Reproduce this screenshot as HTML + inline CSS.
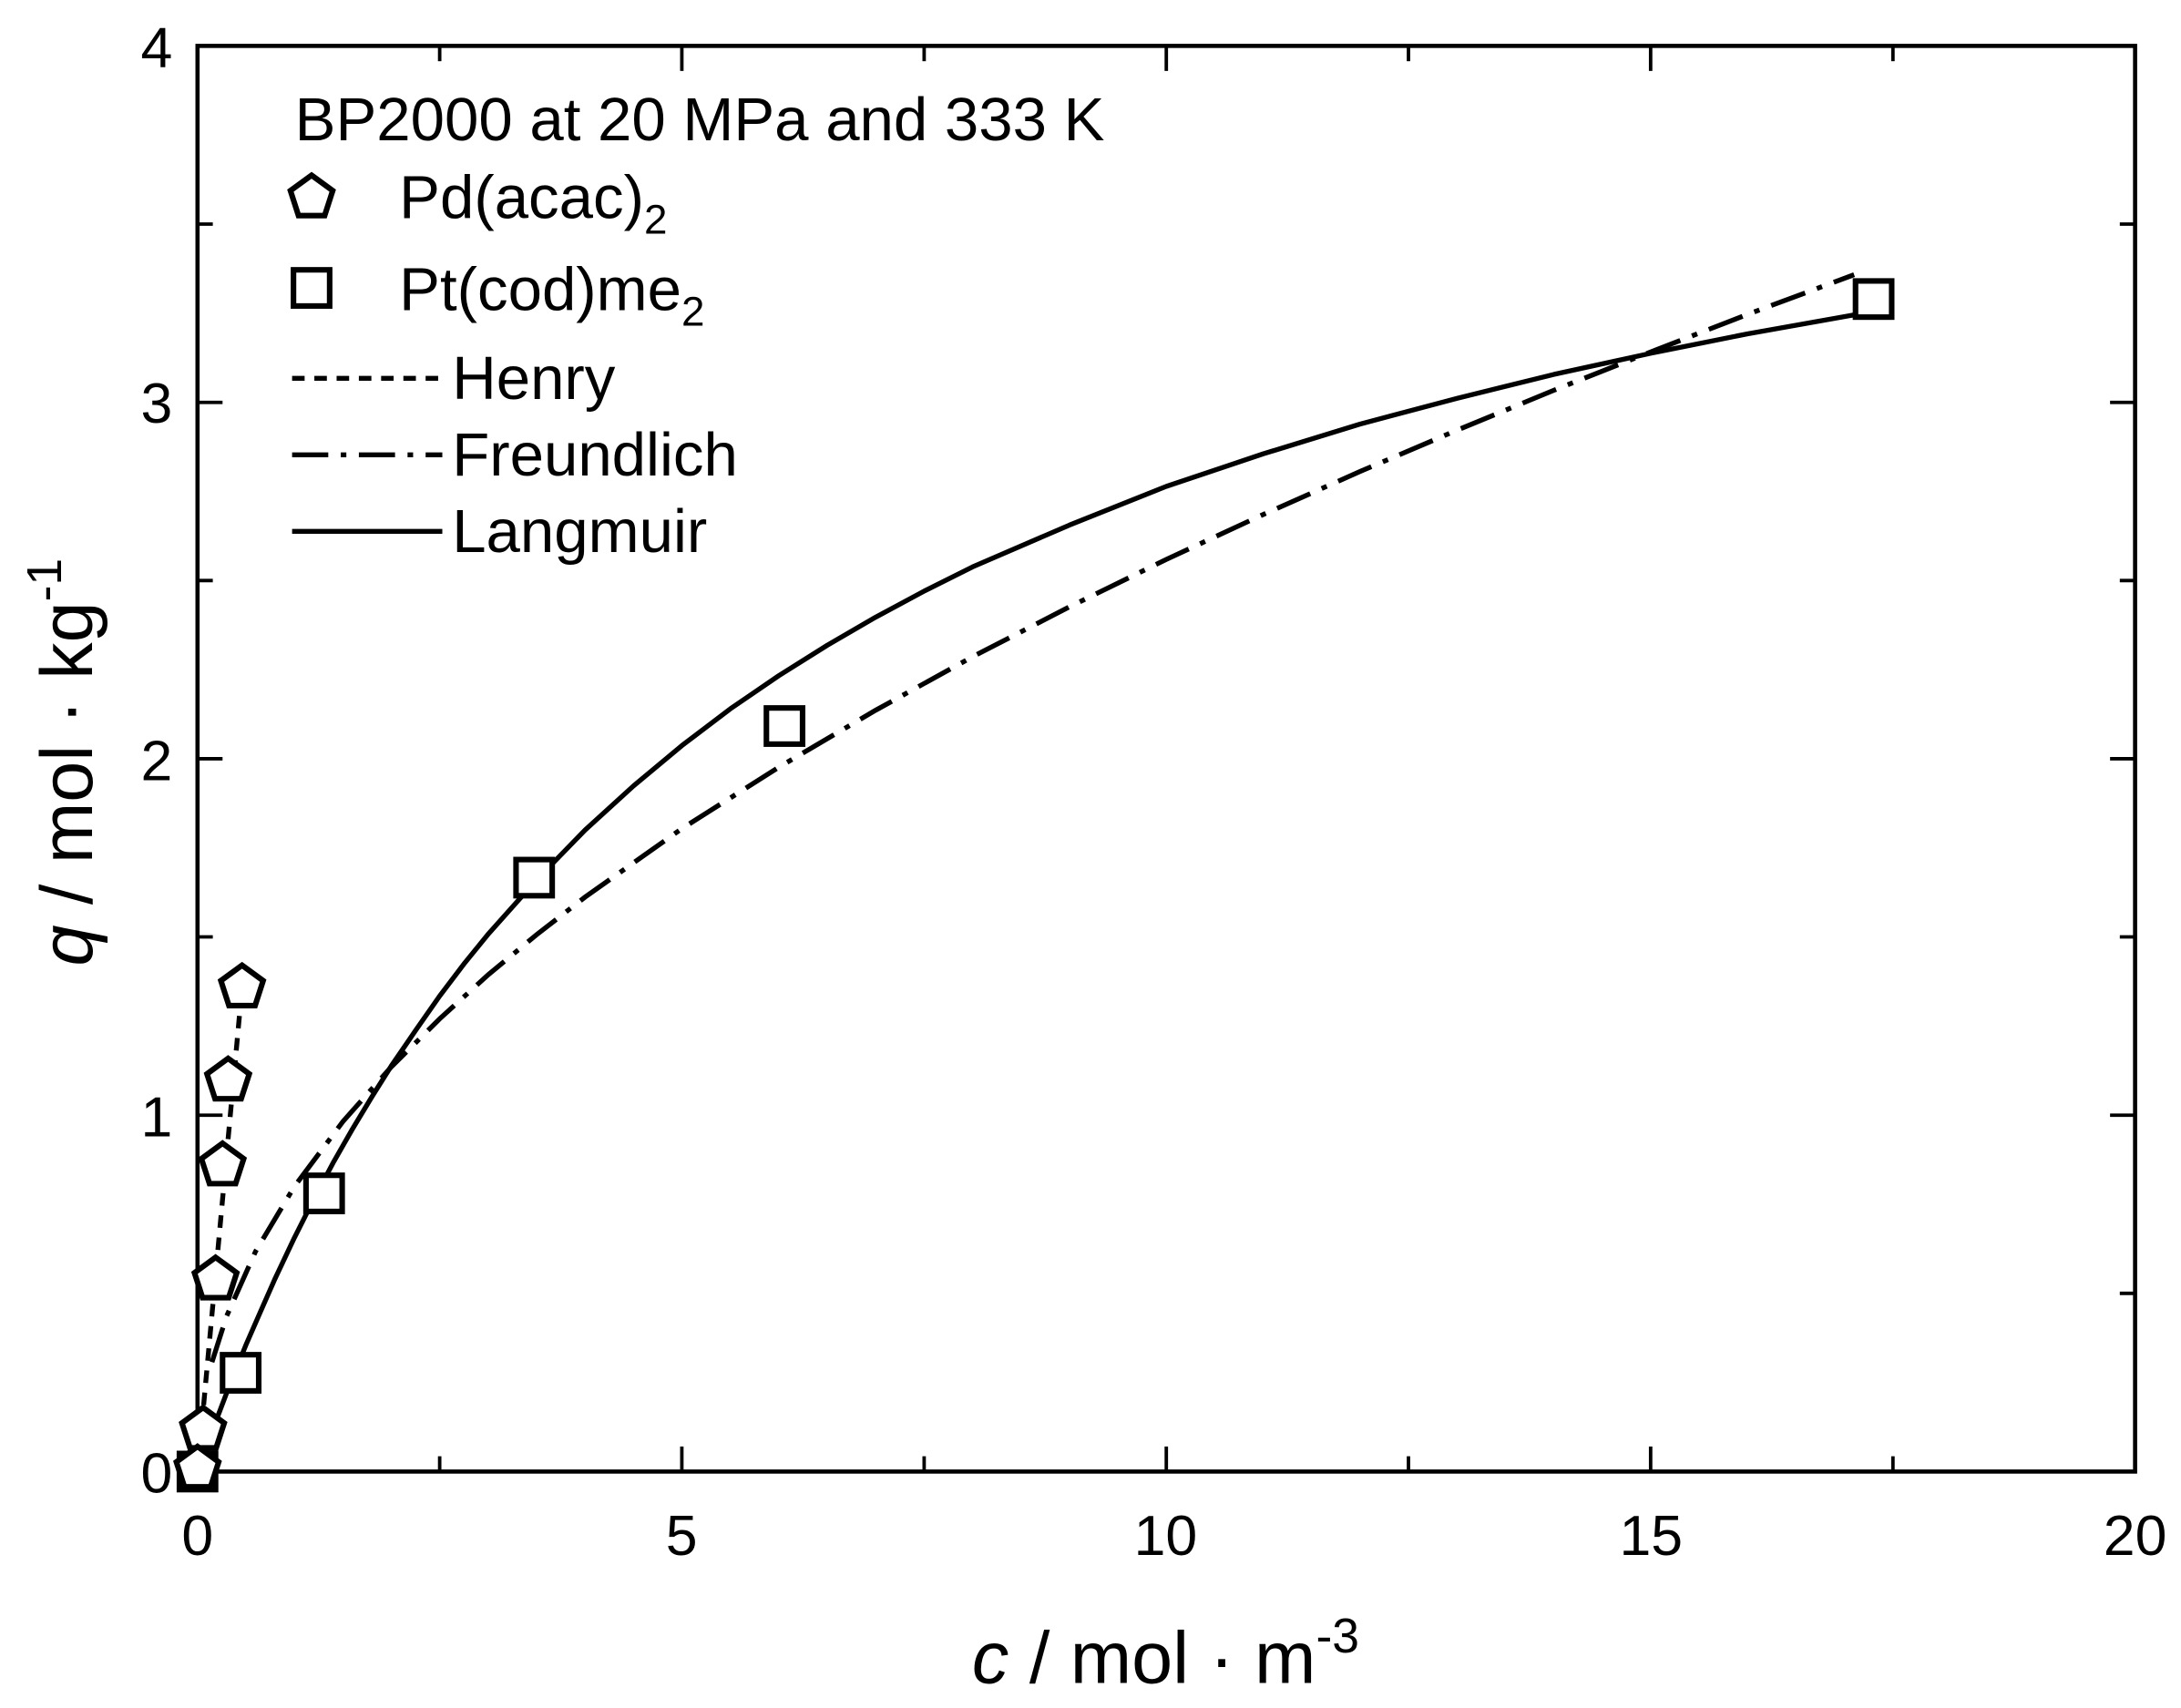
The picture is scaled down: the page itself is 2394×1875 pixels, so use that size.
<!DOCTYPE html>
<html><head><style>
html,body{margin:0;padding:0;background:#fff}
svg{display:block}
text{font-family:"Liberation Sans",Arial,sans-serif;fill:#000}
</style></head><body>
<svg width="2394" height="1875" viewBox="0 0 1568 1228" preserveAspectRatio="none" xmlns="http://www.w3.org/2000/svg">
<defs>
<polygon id="pent" points="0,-16 15.2,-4.9 9.4,13 -9.4,13 -15.2,-4.9" fill="#fff" stroke="#000" stroke-width="4" stroke-linejoin="miter"/>
<rect id="sq" x="-13" y="-13" width="26" height="26" fill="#fff" stroke="#000" stroke-width="4"/>
</defs>
<rect x="142" y="33" width="1393" height="1025" fill="none" stroke="#000" stroke-width="3"/>
<g stroke="#000" stroke-width="2.5">
<line x1="490.2" y1="1058" x2="490.2" y2="1040"/><line x1="838.5" y1="1058" x2="838.5" y2="1040"/><line x1="1186.7" y1="1058" x2="1186.7" y2="1040"/>
<line x1="316.1" y1="1058" x2="316.1" y2="1047"/><line x1="664.4" y1="1058" x2="664.4" y2="1047"/><line x1="1012.6" y1="1058" x2="1012.6" y2="1047"/><line x1="1360.9" y1="1058" x2="1360.9" y2="1047"/>
<line x1="490.2" y1="33" x2="490.2" y2="51"/><line x1="838.5" y1="33" x2="838.5" y2="51"/><line x1="1186.7" y1="33" x2="1186.7" y2="51"/>
<line x1="316.1" y1="33" x2="316.1" y2="44"/><line x1="664.4" y1="33" x2="664.4" y2="44"/><line x1="1012.6" y1="33" x2="1012.6" y2="44"/><line x1="1360.9" y1="33" x2="1360.9" y2="44"/>
<line x1="142" y1="801.8" x2="160" y2="801.8"/><line x1="142" y1="545.5" x2="160" y2="545.5"/><line x1="142" y1="289.3" x2="160" y2="289.3"/>
<line x1="142" y1="929.9" x2="153" y2="929.9"/><line x1="142" y1="673.6" x2="153" y2="673.6"/><line x1="142" y1="417.4" x2="153" y2="417.4"/><line x1="142" y1="161.1" x2="153" y2="161.1"/>
<line x1="1535" y1="801.8" x2="1517" y2="801.8"/><line x1="1535" y1="545.5" x2="1517" y2="545.5"/><line x1="1535" y1="289.3" x2="1517" y2="289.3"/>
<line x1="1535" y1="929.9" x2="1524" y2="929.9"/><line x1="1535" y1="673.6" x2="1524" y2="673.6"/><line x1="1535" y1="417.4" x2="1524" y2="417.4"/><line x1="1535" y1="161.1" x2="1524" y2="161.1"/>
</g>
<g font-size="41" text-anchor="middle">
<text x="142" y="1118">0</text><text x="490" y="1118">5</text><text x="838" y="1118">10</text><text x="1187" y="1118">15</text><text x="1535" y="1118">20</text>
</g>
<g font-size="41" text-anchor="end">
<text x="124" y="1073">0</text><text x="124" y="817">1</text><text x="124" y="561">2</text><text x="124" y="304">3</text><text x="124" y="48">4</text>
</g>
<text x="838" y="1210" font-size="53" text-anchor="middle"><tspan font-style="italic">c</tspan> / mol · m<tspan font-size="35" dy="-22">-3</tspan></text>
<text transform="translate(66,548) rotate(-90)" font-size="53" text-anchor="middle"><tspan font-style="italic">q</tspan> / mol · kg<tspan font-size="35" dy="-22">-1</tspan></text>
<polyline fill="none" stroke="#000" stroke-width="3.5" stroke-linejoin="round" points="149,1038.5 155.9,1020 162.9,1001.6 169.9,984 176.8,967 187.3,943 197.7,919.4 211.6,890 225.6,862.2 239.5,836 253.4,811.7 267.4,788.5 281.3,766.4 298.7,741 316.1,716.1 333.6,693 351,671.6 385.8,632.6 420.6,596.8 455.5,565 490.3,536 525.1,509.6 559.9,485.8 594.8,463.9 629.6,443.7 664.4,425 699.2,407.6 768.9,377.5 838.5,349.7 908.2,326.3 977.8,304.9 1047.5,286.4 1117.1,269.2 1186.8,254 1256.4,240 1347,223.9"/>
<polyline fill="none" stroke="#000" stroke-width="3.5" stroke-dasharray="26,9,4,9" points="152.4,979.3 162.9,946.3 183.8,899.6 211.7,853 246.5,806.4 281.3,767.1 316.1,732.5 351,700.8 385.8,672 420.6,645 490.3,595.7 559.9,551.6 629.6,510.6 699.2,472.2 768.9,436.3 838.5,402.2 908.2,369.9 977.8,339 1047.5,309.3 1117.1,280.6 1186.8,253 1256.4,226 1333,197.5"/>
<line x1="142" y1="1058" x2="174" y2="710" stroke="#000" stroke-width="3.5" stroke-dasharray="9,7"/>
<use href="#sq" x="142" y="1058"/><use href="#sq" x="173" y="987"/><use href="#sq" x="233" y="858"/><use href="#sq" x="384" y="631"/><use href="#sq" x="564" y="522"/><use href="#sq" x="1347" y="215"/>
<use href="#pent" x="146" y="1028"/><use href="#pent" x="155" y="920"/><use href="#pent" x="160" y="838"/><use href="#pent" x="164" y="777"/><use href="#pent" x="174" y="710"/><use href="#pent" x="142" y="1056"/>
<g font-size="44">
<text x="212" y="101">BP2000 at 20 MPa and 333 K</text>
<use href="#pent" x="224" y="142"/>
<text x="287" y="157">Pd(acac)<tspan font-size="30" dy="11">2</tspan></text>
<use href="#sq" x="224" y="207"/>
<text x="287" y="223">Pt(cod)me<tspan font-size="30" dy="11">2</tspan></text>
<line x1="210" y1="272" x2="318" y2="272" stroke="#000" stroke-width="3.5" stroke-dasharray="9,7"/>
<text x="325" y="287">Henry</text>
<line x1="210" y1="327" x2="318" y2="327" stroke="#000" stroke-width="3.5" stroke-dasharray="26,9,4,9"/>
<text x="325" y="342">Freundlich</text>
<line x1="210" y1="382" x2="318" y2="382" stroke="#000" stroke-width="3.5"/>
<text x="325" y="397">Langmuir</text>
</g>
</svg>
</body></html>
